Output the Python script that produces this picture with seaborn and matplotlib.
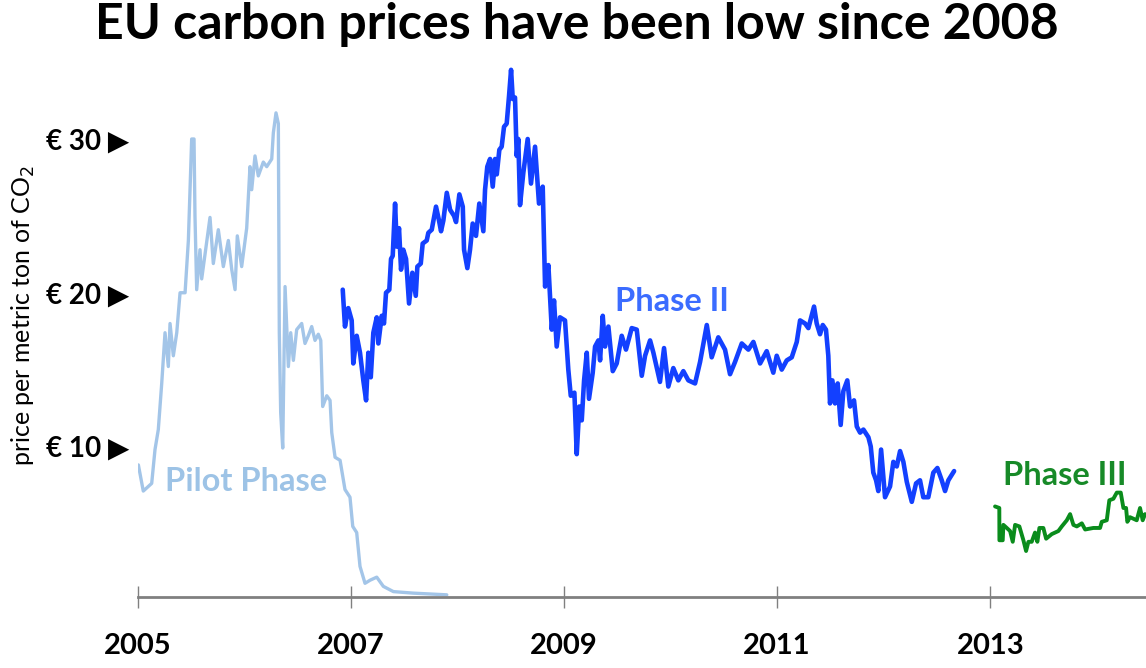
import matplotlib
matplotlib.use("Agg")
import matplotlib.pyplot as plt
import seaborn as sns

# ==========================================
# Data (decimal year, EUR per tonne)
# ==========================================
pilot_year = [2005.008, 2005.054, 2005.133, 2005.164, 2005.195, 2005.227, 2005.258, 2005.289,
              2005.305, 2005.336, 2005.368, 2005.399, 2005.446, 2005.477, 2005.508, 2005.530,
              2005.539, 2005.555, 2005.586, 2005.602, 2005.680, 2005.711, 2005.758, 2005.805,
              2005.852, 2005.884, 2005.915, 2005.936, 2005.977, 2006.024, 2006.055, 2006.071,
              2006.102, 2006.133, 2006.180, 2006.212, 2006.259, 2006.274, 2006.299, 2006.321,
              2006.330, 2006.343, 2006.362, 2006.384, 2006.415, 2006.437, 2006.462, 2006.493,
              2006.540, 2006.571, 2006.602, 2006.634, 2006.665, 2006.696, 2006.719, 2006.737,
              2006.775, 2006.806, 2006.822, 2006.853, 2006.900, 2006.946, 2006.993, 2007.019,
              2007.056, 2007.087, 2007.134, 2007.181, 2007.244, 2007.306, 2007.400, 2007.587,
              2007.901]
pilot_price = [8.8, 7.1, 7.6, 9.8, 11.1, 14.1, 17.4, 15.2,
               18.0, 15.9, 17.4, 20.0, 20.0, 23.4, 30.0, 30.0,
               25.0, 20.2, 22.8, 20.9, 24.9, 21.9, 24.1, 21.7,
               23.4, 21.5, 20.2, 23.7, 21.7, 24.2, 28.2, 26.7,
               28.9, 27.6, 28.5, 28.2, 28.7, 30.4, 31.7, 31.0,
               17.4, 12.2, 9.9, 20.4, 15.2, 17.4, 15.6, 17.6,
               18.0, 16.7, 17.2, 17.8, 16.9, 17.3, 16.9, 12.6,
               13.3, 13.0, 10.9, 9.3, 9.1, 7.2, 6.7, 4.8,
               4.4, 2.2, 1.1, 1.3, 1.5, 0.9, 0.56, 0.46,
               0.35]

phase2_year = [2006.925, 2006.946, 2006.977, 2007.009, 2007.024, 2007.056, 2007.087, 2007.118,
               2007.144, 2007.165, 2007.188, 2007.212, 2007.244, 2007.259, 2007.291, 2007.312,
               2007.331, 2007.362, 2007.378, 2007.394, 2007.416, 2007.432, 2007.453, 2007.472,
               2007.493, 2007.519, 2007.547, 2007.578, 2007.610, 2007.625, 2007.657, 2007.675,
               2007.713, 2007.728, 2007.760, 2007.800, 2007.828, 2007.847, 2007.869, 2007.901,
               2007.932, 2007.969, 2007.988, 2008.019, 2008.051, 2008.063, 2008.094, 2008.119,
               2008.144, 2008.175, 2008.206, 2008.244, 2008.260, 2008.281, 2008.307, 2008.332,
               2008.354, 2008.370, 2008.394, 2008.416, 2008.438, 2008.463, 2008.485, 2008.504,
               2008.520, 2008.541, 2008.557, 2008.572, 2008.588, 2008.619, 2008.660, 2008.691,
               2008.729, 2008.766, 2008.801, 2008.823, 2008.854, 2008.886, 2008.907, 2008.932,
               2008.963, 2009.010, 2009.041, 2009.064, 2009.098, 2009.120, 2009.144, 2009.167,
               2009.189, 2009.214, 2009.235, 2009.270, 2009.292, 2009.323, 2009.339, 2009.364,
               2009.386, 2009.417, 2009.458, 2009.495, 2009.542, 2009.582, 2009.636, 2009.683,
               2009.730, 2009.761, 2009.808, 2009.839, 2009.901, 2009.939, 2009.979, 2010.026,
               2010.073, 2010.120, 2010.167, 2010.230, 2010.277, 2010.340, 2010.386, 2010.448,
               2010.511, 2010.558, 2010.605, 2010.668, 2010.730, 2010.777, 2010.840, 2010.902,
               2010.964, 2010.996, 2011.043, 2011.090, 2011.137, 2011.184, 2011.215, 2011.262,
               2011.293, 2011.346, 2011.371, 2011.402, 2011.428, 2011.458, 2011.480, 2011.496,
               2011.518, 2011.543, 2011.568, 2011.596, 2011.621, 2011.658, 2011.684, 2011.721,
               2011.747, 2011.778, 2011.809, 2011.856, 2011.878, 2011.902, 2011.928, 2011.949,
               2011.975, 2012.012, 2012.059, 2012.090, 2012.122, 2012.153, 2012.184, 2012.216,
               2012.263, 2012.303, 2012.340, 2012.371, 2012.418, 2012.465, 2012.503, 2012.544,
               2012.575, 2012.606, 2012.660]
phase2_price = [20.2, 17.8, 19.0, 18.2, 15.4, 17.2, 16.1, 14.3,
                13.0, 16.1, 14.5, 17.4, 18.4, 16.7, 18.5, 18.0,
                20.0, 20.2, 22.2, 22.4, 25.8, 23.0, 24.2, 21.5,
                22.8, 22.2, 19.3, 21.3, 19.8, 21.7, 21.9, 23.2,
                23.4, 23.9, 24.1, 25.6, 24.7, 24.0, 24.7, 26.5,
                25.4, 25.0, 24.6, 26.4, 25.6, 22.8, 21.6, 22.8,
                24.5, 23.7, 25.8, 24.0, 26.7, 28.2, 28.7, 26.9,
                28.7, 27.7, 29.3, 29.5, 30.8, 31.0, 32.8, 34.5,
                32.6, 32.7, 28.9, 30.0, 25.7, 27.8, 30.0, 27.1,
                29.5, 25.8, 26.9, 20.4, 21.8, 17.6, 19.5, 16.5,
                18.4, 18.2, 15.0, 13.3, 13.5, 9.5, 12.6, 11.7,
                14.3, 16.1, 13.1, 14.8, 16.5, 16.9, 15.6, 18.5,
                16.5, 17.8, 14.9, 15.4, 17.2, 16.3, 17.7, 17.6,
                14.6, 15.9, 16.9, 16.1, 14.2, 16.4, 13.9, 15.1,
                14.3, 14.9, 14.3, 14.1, 15.5, 17.9, 15.8, 17.1,
                16.3, 14.7, 15.5, 16.7, 16.3, 16.8, 15.4, 16.2,
                14.8, 15.9, 15.0, 15.6, 15.8, 16.8, 18.2, 18.0,
                17.7, 19.1, 18.0, 17.3, 17.9, 17.6, 15.9, 12.8,
                14.3, 12.8, 14.1, 11.4, 13.6, 14.3, 12.6, 13.0,
                11.3, 10.9, 11.1, 10.6, 10.0, 8.3, 7.8, 7.1,
                9.8, 6.7, 7.4, 9.0, 8.7, 9.7, 9.0, 7.7,
                6.4, 7.6, 7.8, 6.7, 6.7, 8.3, 8.6, 7.8,
                7.1, 7.8, 8.4]

phase3_year = [2013.044, 2013.084, 2013.085, 2013.116, 2013.122, 2013.154, 2013.185, 2013.210,
               2013.232, 2013.272, 2013.310, 2013.335, 2013.357, 2013.388, 2013.419, 2013.441,
               2013.460, 2013.497, 2013.523, 2013.576, 2013.638, 2013.670, 2013.717, 2013.748,
               2013.779, 2013.811, 2013.858, 2013.889, 2013.966, 2014.029, 2014.045, 2014.092,
               2014.116, 2014.154, 2014.186, 2014.223, 2014.248, 2014.273, 2014.285, 2014.310,
               2014.342, 2014.373, 2014.404, 2014.429, 2014.451]
phase3_price = [6.1, 6.0, 3.9, 3.9, 4.9, 4.7, 4.5, 3.8,
                4.9, 4.8, 3.9, 3.2, 3.8, 3.8, 4.4, 3.8,
                4.7, 4.7, 4.0, 4.3, 4.5, 4.8, 5.2, 5.6,
                4.9, 4.8, 5.0, 4.6, 4.7, 4.7, 5.1, 5.2,
                6.5, 6.6, 7.0, 7.0, 6.0, 6.0, 5.1, 5.4,
                5.3, 5.2, 6.0, 5.2, 5.6]

year_ticks = [2005, 2007, 2009, 2011, 2013]
price_ticks = [10, 20, 30]
price_labels = ["€ 10 ▶", "€ 20 ▶", "€ 30 ▶"]

PILOT_COLOR = "#a3c5e8"
PHASE2_COLOR = "#1340ff"
PHASE3_COLOR = "#0a8c1c"

# ==========================================
# Figure
# ==========================================
sns.set_style("white")
plt.rcParams["font.family"] = ["Lato", "DejaVu Sans"]
plt.rcParams["text.color"] = "black"

fig = plt.figure(figsize=(11.46, 6.68), dpi=100)
ax = fig.add_axes([0.12, 0.107, 0.88, 0.823])

sns.lineplot(x=pilot_year, y=pilot_price, ax=ax, color=PILOT_COLOR, linewidth=2.4,
             estimator=None, sort=False)
sns.lineplot(x=phase2_year, y=phase2_price, ax=ax, color=PHASE2_COLOR, linewidth=3.3,
             estimator=None, sort=False)
sns.lineplot(x=phase3_year, y=phase3_price, ax=ax, color=PHASE3_COLOR, linewidth=2.8,
             estimator=None, sort=False)

ax.set_xlim(2005, 2014.46)
ax.set_ylim(0.24, 36)

ax.set_xticks(year_ticks)
ax.set_xticklabels([str(y) for y in year_ticks], fontsize=21, fontweight="bold", color="black")
ax.set_yticks(price_ticks)
ax.set_yticklabels(price_labels, fontsize=20, fontweight="bold", color="black")

ax.tick_params(axis="x", bottom=True, direction="inout", length=16, width=1.0,
               color="#808080", pad=18)
ax.tick_params(axis="y", left=False, length=0, pad=6)

for side in ["top", "right", "left"]:
    ax.spines[side].set_visible(False)
ax.spines["bottom"].set_color("#808080")
ax.spines["bottom"].set_linewidth(2)

ax.set_xlabel("")
ax.set_ylabel("")

# phase labels
ax.text(2005.258, 7.7, "Pilot Phase", color="#9dc3e6", fontsize=23.5, fontweight="bold",
        va="center", ha="left")
ax.text(2009.48, 19.4, "Phase II", color="#3b6cff", fontsize=23.5, fontweight="bold",
        va="center", ha="left")
ax.text(2013.12, 8.1, "Phase III", color="#178a28", fontsize=23.5, fontweight="bold",
        va="center", ha="left")

fig.text(0.02, 0.528, "price per metric ton of CO$_2$", rotation=90, fontsize=18,
         va="center", ha="center")
fig.suptitle("EU carbon prices have been low since 2008", fontsize=36, fontweight="bold",
             x=0.503, y=0.997, va="top")

fig.savefig("out.png", dpi=100)
